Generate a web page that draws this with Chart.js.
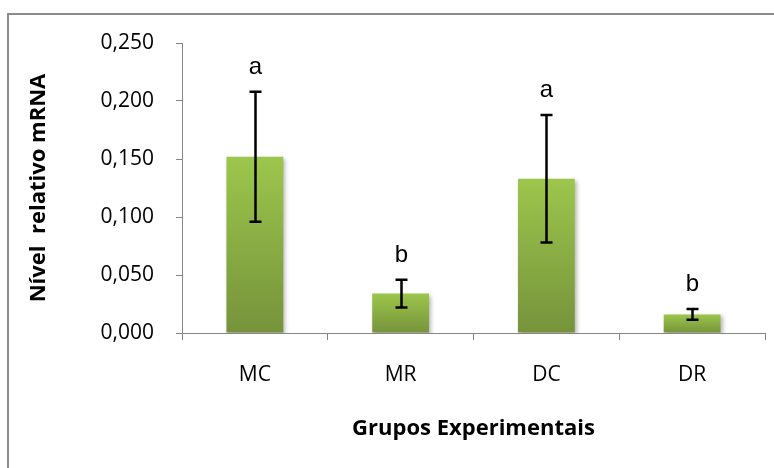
<!DOCTYPE html>
<html>
<head>
<meta charset="utf-8">
<script src="https://cdn.jsdelivr.net/npm/chart.js@4/dist/chart.umd.min.js"></script>
<style>
  html, body { margin: 0; padding: 0; background: #fff; }
  #wrap { position: relative; width: 774px; height: 468px; }
</style>
</head>
<body>
<div id="wrap"><canvas id="c" width="774" height="468"></canvas></div>
<script>
// Experimental groups and relative mRNA levels (mean ± error)
const categories = ['MC', 'MR', 'DC', 'DR'];
const means = [0.152, 0.034, 0.133, 0.016];
const errors = [0.056, 0.012, 0.055, 0.0046];
const letters = ['a', 'b', 'a', 'b'];
const yTicks = [0, 0.05, 0.10, 0.15, 0.20, 0.25];

const AXIS_GREY = '#868686';
const FONT = "'Open Sans', 'Liberation Sans', sans-serif";

function fmt(v) {
  return v.toFixed(3).replace('.', ',');
}

// grey frame around the figure (top and left edges)
const framePlugin = {
  id: 'frame',
  beforeDraw(chart) {
    const ctx = chart.ctx;
    ctx.save();
    ctx.strokeStyle = '#8c8c8c';
    ctx.lineWidth = 2;
    ctx.beginPath();
    ctx.moveTo(8, 468);
    ctx.lineTo(8, 14);
    ctx.lineTo(774, 14);
    ctx.stroke();
    ctx.restore();
  }
};

// soft shadow under the bars
const shadowPlugin = {
  id: 'barShadow',
  beforeDatasetsDraw(chart) {
    const ctx = chart.ctx;
    ctx.save();
    ctx.shadowColor = 'rgba(0,0,0,0.28)';
    ctx.shadowBlur = 4;
    ctx.shadowOffsetX = 2;
    ctx.shadowOffsetY = 2;
  },
  afterDatasetsDraw(chart) {
    chart.ctx.restore();
  }
};

// error bars and significance letters
const errorPlugin = {
  id: 'errorBars',
  afterDatasetsDraw(chart) {
    const ctx = chart.ctx;
    const meta = chart.getDatasetMeta(0);
    const y = chart.scales.y;
    ctx.save();
    ctx.strokeStyle = '#000';
    ctx.lineWidth = 2.5;
    meta.data.forEach((bar, i) => {
      const x = Math.round(bar.x) + 0.5;
      const top = y.getPixelForValue(means[i] + errors[i]);
      const bot = y.getPixelForValue(means[i] - errors[i]);
      const cap = 6;
      ctx.beginPath();
      ctx.moveTo(x, top);
      ctx.lineTo(x, bot);
      ctx.moveTo(x - cap, top);
      ctx.lineTo(x + cap, top);
      ctx.moveTo(x - cap, bot);
      ctx.lineTo(x + cap, bot);
      ctx.stroke();

      ctx.fillStyle = '#000';
      ctx.font = "24px 'Liberation Sans', Arial, sans-serif";
      ctx.textAlign = 'center';
      ctx.textBaseline = 'alphabetic';
      ctx.fillText(letters[i], x, top - 18);
    });
    ctx.restore();
  }
};

function barGradient(context) {
  const chart = context.chart;
  if (!chart.chartArea) return '#8db244';
  const y = chart.scales.y;
  const v = means[context.dataIndex];
  const g = chart.ctx.createLinearGradient(0, y.getPixelForValue(v), 0, y.getPixelForValue(0));
  g.addColorStop(0, '#9cc64c');
  g.addColorStop(1, '#76933b');
  return g;
}

new Chart(document.getElementById('c'), {
  type: 'bar',
  data: {
    labels: categories,
    datasets: [{
      data: means,
      backgroundColor: barGradient,
      borderWidth: 0,
      categoryPercentage: 1,
      barPercentage: 0.39
    }]
  },
  options: {
    responsive: false,
    animation: false,
    devicePixelRatio: 1,
    layout: { padding: { top: 43, right: 9, bottom: 0, left: 0 } },
    plugins: {
      legend: { display: false },
      tooltip: { enabled: false }
    },
    scales: {
      x: {
        offset: true,
        afterFit(scale) { scale.height = 135; },
        grid: {
          display: true,
          offset: true,
          drawOnChartArea: false,
          drawTicks: true,
          tickLength: 7,
          color: AXIS_GREY
        },
        border: { color: AXIS_GREY, width: 1 },
        ticks: {
          color: '#000',
          font: { family: FONT, size: 21 },
          padding: 22
        },
        title: {
          display: true,
          text: 'Grupos Experimentais',
          color: '#000',
          font: { family: FONT, size: 22, weight: 'bold' },
          padding: { top: 0, bottom: 26 }
        }
      },
      y: {
        min: 0,
        max: 0.25,
        afterFit(scale) { scale.width = 182; },
        afterBuildTicks(scale) {
          scale.ticks = yTicks.map(v => ({ value: v }));
        },
        grid: {
          display: true,
          drawOnChartArea: false,
          drawTicks: true,
          tickLength: 6,
          color: AXIS_GREY
        },
        border: { color: AXIS_GREY, width: 1 },
        ticks: {
          color: '#000',
          font: { family: FONT, size: 21 },
          padding: 22,
          callback: (v) => fmt(v)
        },
        title: {
          display: true,
          text: 'Nível  relativo mRNA',
          color: '#000',
          font: { family: FONT, size: 22, weight: 'bold' },
          padding: { top: 26, bottom: 0 }
        }
      }
    }
  },
  plugins: [framePlugin, shadowPlugin, errorPlugin]
});
</script>
</body>
</html>
